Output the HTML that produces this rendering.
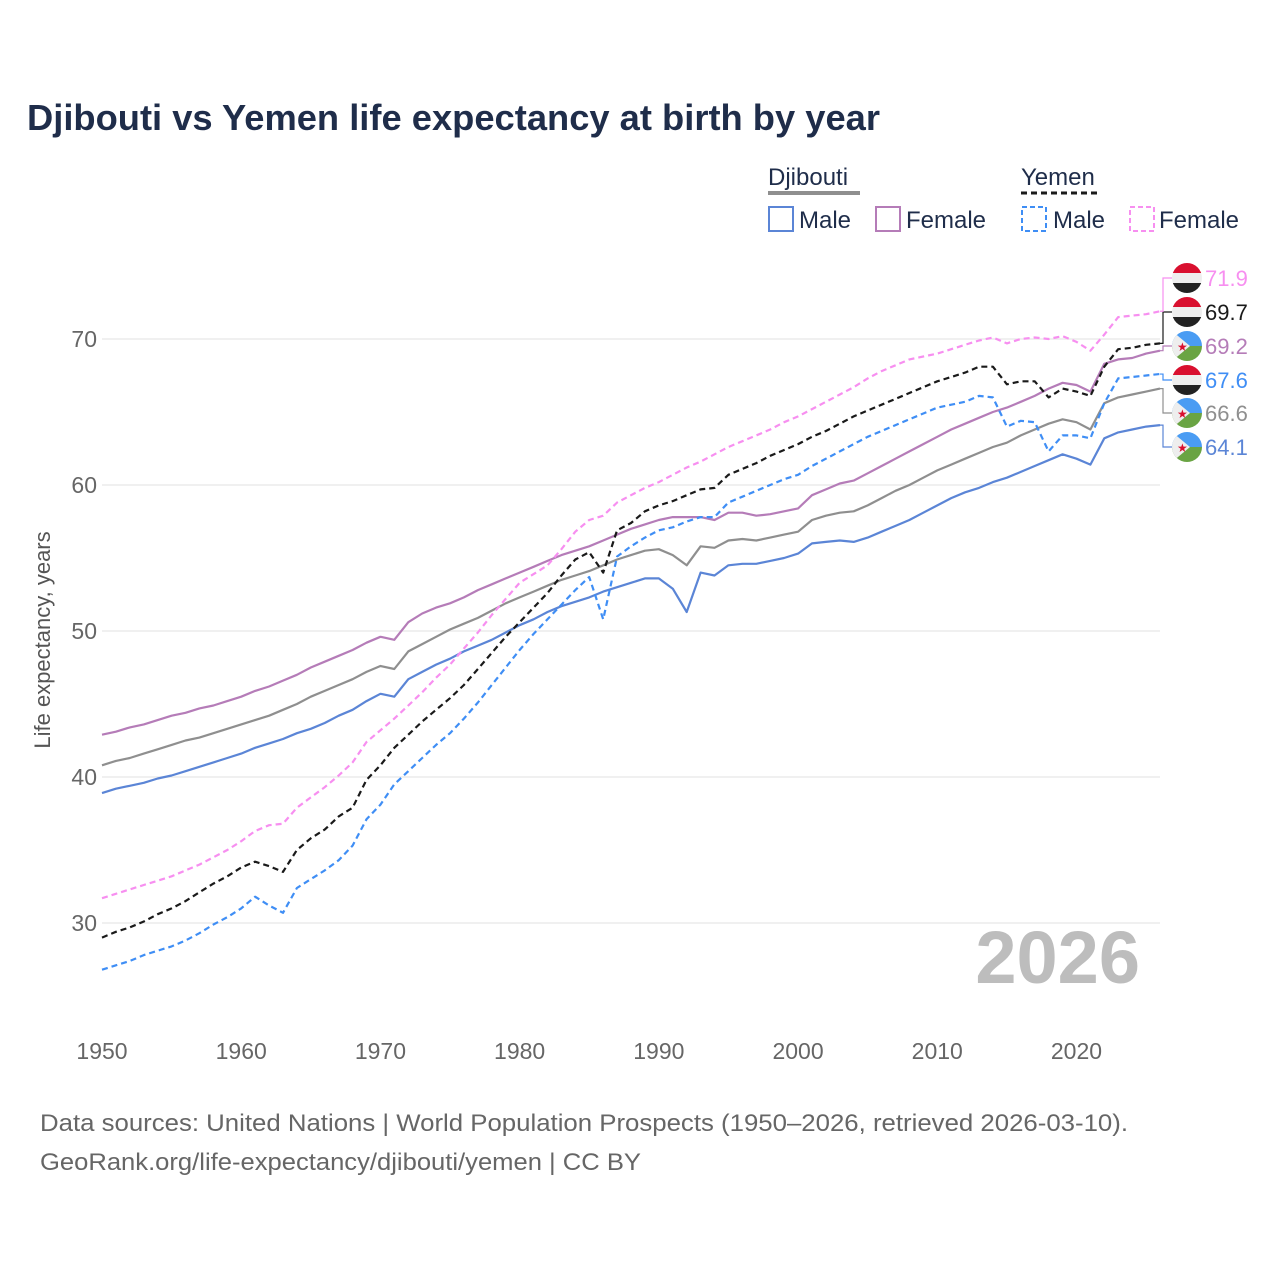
<!DOCTYPE html>
<html><head><meta charset="utf-8"><style>
body{margin:0;background:#fff;}
svg text{font-family:"Liberation Sans",sans-serif;}
</style></head><body>
<svg id="chart" width="1280" height="1280" viewBox="0 0 1280 1280" xmlns="http://www.w3.org/2000/svg">
<defs>
<clipPath id="fc"><circle cx="0" cy="0" r="15"/></clipPath>
</defs>
<text x="27" y="130" font-size="36" font-weight="bold" fill="#1f2d4a" textLength="853" lengthAdjust="spacingAndGlyphs">Djibouti vs Yemen life expectancy at birth by year</text>
<g font-size="24" fill="#333">
<text x="768" y="185" fill="#1f2d4a">Djibouti</text>
<line x1="768" y1="193" x2="860" y2="193" stroke="#8f8f8f" stroke-width="4"/>
<text x="1021" y="185" fill="#1f2d4a">Yemen</text>
<line x1="1021" y1="193" x2="1098" y2="193" stroke="#1a1a1a" stroke-width="3" stroke-dasharray="6,4"/>
<g><rect x="769" y="207" width="24" height="24" fill="none" stroke="#5b85d6" stroke-width="2"/><text x="799" y="228" fill="#1f2d4a">Male</text></g>
<g><rect x="876" y="207" width="24" height="24" fill="none" stroke="#b57cb8" stroke-width="2"/><text x="906" y="228" fill="#1f2d4a">Female</text></g>
<g><rect x="1022" y="207" width="24" height="24" fill="none" stroke="#3f8ef5" stroke-width="2" stroke-dasharray="5,3"/><text x="1053" y="228" fill="#1f2d4a">Male</text></g>
<g><rect x="1130" y="207" width="24" height="24" fill="none" stroke="#f78ff0" stroke-width="2" stroke-dasharray="5,3"/><text x="1159" y="228" fill="#1f2d4a">Female</text></g>
</g>
<text transform="translate(50,640) rotate(-90)" text-anchor="middle" font-size="22" fill="#555">Life expectancy, years</text>
<text x="1140" y="983" text-anchor="end" font-size="74" font-weight="bold" fill="#bdbdbd">2026</text>
<g id="grid"></g><g id="axes"></g><g id="series"></g><g id="labels"></g>
<text x="40" y="1131" font-size="24" fill="#666" textLength="1088" lengthAdjust="spacingAndGlyphs">Data sources: United Nations | World Population Prospects (1950–2026, retrieved 2026-03-10).</text>
<text x="40" y="1170" font-size="24" fill="#666" textLength="601" lengthAdjust="spacingAndGlyphs">GeoRank.org/life-expectancy/djibouti/yemen | CC BY</text>
</svg>
<script>
const startYear = 1950;
const yTicks = [30, 40, 50, 60, 70];
const xTicks = [1950, 1960, 1970, 1980, 1990, 2000, 2010, 2020];
const djiboutiMale = [
38.9,39.2,39.4,39.6,39.9, 40.1,40.4,40.7,41.0,41.3,
41.6,42.0,42.3,42.6,43.0, 43.3,43.7,44.2,44.6,45.2,
45.7,45.5,46.7,47.2,47.7, 48.1,48.6,49.0,49.4,49.9,
50.4,50.8,51.3,51.7,52.0, 52.3,52.7,53.0,53.3,53.6,
53.6,52.9,51.3,54.0,53.8, 54.5,54.6,54.6,54.8,55.0,
55.3,56.0,56.1,56.2,56.1, 56.4,56.8,57.2,57.6,58.1,
58.6,59.1,59.5,59.8,60.2, 60.5,60.9,61.3,61.7,62.1,
61.8,61.4,63.2,63.6,63.8, 64.0,64.1];
const djiboutiFemale = [
42.9,43.1,43.4,43.6,43.9, 44.2,44.4,44.7,44.9,45.2,
45.5,45.9,46.2,46.6,47.0, 47.5,47.9,48.3,48.7,49.2,
49.6,49.4,50.6,51.2,51.6, 51.9,52.3,52.8,53.2,53.6,
54.0,54.4,54.8,55.2,55.5, 55.8,56.2,56.6,57.0,57.3,
57.6,57.8,57.8,57.8,57.6, 58.1,58.1,57.9,58.0,58.2,
58.4,59.3,59.7,60.1,60.3, 60.8,61.3,61.8,62.3,62.8,
63.3,63.8,64.2,64.6,65.0, 65.3,65.7,66.1,66.6,67.0,
66.85,66.4,68.3,68.6,68.7, 69.0,69.2];
const djiboutiTotal = [
40.8,41.1,41.3,41.6,41.9, 42.2,42.5,42.7,43.0,43.3,
43.6,43.9,44.2,44.6,45.0, 45.5,45.9,46.3,46.7,47.2,
47.6,47.4,48.6,49.1,49.6, 50.1,50.5,50.9,51.4,51.9,
52.3,52.7,53.1,53.5,53.8, 54.1,54.5,54.9,55.2,55.5,
55.6,55.2,54.5,55.8,55.7, 56.2,56.3,56.2,56.4,56.6,
56.8,57.6,57.9,58.1,58.2, 58.6,59.1,59.6,60.0,60.5,
61.0,61.4,61.8,62.2,62.6, 62.9,63.4,63.8,64.2,64.5,
64.3,63.8,65.6,66.0,66.2, 66.4,66.6];
const yemenTotal = [
29.0,29.4,29.7,30.1,30.6, 31.0,31.5,32.1,32.7,33.2,
33.8,34.2,33.9,33.5,35.0, 35.8,36.4,37.3,37.9,39.8,
40.8,42.0,42.9,43.8,44.6, 45.4,46.3,47.4,48.5,49.6,
50.6,51.6,52.6,53.8,54.9, 55.4,54.0,56.9,57.4,58.2,
58.6,58.9,59.3,59.7,59.8, 60.7,61.1,61.5,62.0,62.4,
62.8,63.3,63.7,64.2,64.7, 65.1,65.5,65.9,66.3,66.7,
67.1,67.4,67.7,68.1,68.1, 66.9,67.1,67.1,66.0,66.6,
66.4,66.1,68.1,69.3,69.4, 69.6,69.7];
const yemenMale = [
26.8,27.1,27.4,27.8,28.1, 28.4,28.8,29.3,29.9,30.4,
31.0,31.8,31.2,30.7,32.4, 33.0,33.6,34.3,35.3,37.1,
38.1,39.5,40.4,41.3,42.2, 43.0,44.0,45.1,46.3,47.5,
48.7,49.8,50.8,51.8,52.8, 53.7,50.8,55.1,55.8,56.4,
56.9,57.1,57.5,57.8,57.8, 58.8,59.2,59.6,60.0,60.4,
60.7,61.3,61.8,62.3,62.8, 63.3,63.7,64.1,64.5,64.9,
65.3,65.5,65.7,66.1,66.0, 64.0,64.4,64.3,62.3,63.4,
63.4,63.2,65.6,67.3,67.4, 67.5,67.6];
const yemenFemale = [
31.7,32.0,32.3,32.6,32.9, 33.2,33.6,34.0,34.5,35.0,
35.6,36.3,36.7,36.8,37.9, 38.6,39.3,40.1,41.0,42.4,
43.2,44.0,44.9,45.8,46.8, 47.7,48.8,49.9,51.1,52.2,
53.3,53.9,54.5,55.6,56.8, 57.6,57.9,58.8,59.3,59.8,
60.2,60.7,61.2,61.6,62.1, 62.6,63.0,63.4,63.8,64.3,
64.7,65.2,65.7,66.2,66.7, 67.3,67.8,68.2,68.6,68.8,
69.0,69.3,69.6,69.9,70.1, 69.7,70.0,70.1,70.0,70.2,
69.8,69.2,70.3,71.5,71.6, 71.7,71.9];

const NS = 'http://www.w3.org/2000/svg';
function xScale(year){ return 102 + (year - 1950) * (1058 / 76); }
function yScale(v){ return 339 + (70 - v) * 14.6; }
function mk(tag, attrs, parent){ const e = document.createElementNS(NS, tag); for (const k in attrs) e.setAttribute(k, attrs[k]); parent.appendChild(e); return e; }

const grid = document.getElementById('grid');
const axes = document.getElementById('axes');
yTicks.forEach(t => {
  const l = mk('line', {x1: 102, x2: 1160, y1: yScale(t), y2: yScale(t), stroke: '#ebebeb', 'stroke-width': 1.5}, grid);
  
  
  const tx = mk('text', {x: 97, y: yScale(t) + 8, 'text-anchor': 'end', 'font-size': 23, fill: '#666'}, axes);
  tx.textContent = t;
  
  
});
xTicks.forEach(t => {
  const tx = mk('text', {x: xScale(t), y: 1059, 'text-anchor': 'middle', 'font-size': 23, fill: '#666'}, axes);
  tx.textContent = t;
  
  
});

const seriesG = document.getElementById('series');
const labelsG = document.getElementById('labels');
const defs = [
  {name: 'djibouti-male', data: djiboutiMale, color: '#5b85d6', dash: null, w: 2.2, flag: 'dj', labelColor: '#5b85d6', ly: 447},
  {name: 'djibouti-total', data: djiboutiTotal, color: '#8f8f8f', dash: null, w: 2.2, flag: 'dj', labelColor: '#8f8f8f', ly: 413},
  {name: 'djibouti-female', data: djiboutiFemale, color: '#b57cb8', dash: null, w: 2.2, flag: 'dj', labelColor: '#b57cb8', ly: 346},
  {name: 'yemen-male', data: yemenMale, color: '#3f8ef5', dash: '6,4', w: 2.2, flag: 'ye', labelColor: '#3f8ef5', ly: 380},
  {name: 'yemen-total', data: yemenTotal, color: '#1a1a1a', dash: '6,4', w: 2.2, flag: 'ye', labelColor: '#1a1a1a', ly: 312},
  {name: 'yemen-female', data: yemenFemale, color: '#f78ff0', dash: '6,4', w: 2.2, flag: 'ye', labelColor: '#f78ff0', ly: 278}
];
function flag(type, cx, cy){
  const g = mk('g', {transform: `translate(${cx},${cy})`}, labelsG);
  
  
  const c = mk('g', {'clip-path': 'url(#fc)'}, g);
  if (type === 'ye') {
    mk('rect', {x: -15, y: -15, width: 30, height: 10, fill: '#d9102f'}, c);
    mk('rect', {x: -15, y: -5, width: 30, height: 10, fill: '#eeeeee'}, c);
    mk('rect', {x: -15, y: 5, width: 30, height: 10, fill: '#222'}, c);
  } else {
    mk('rect', {x: -15, y: -15, width: 30, height: 15, fill: '#4a9cf3'}, c);
    mk('rect', {x: -15, y: 0, width: 30, height: 15, fill: '#6aa443'}, c);
    mk('polygon', {points: '-15,-15 3,0 -15,15', fill: '#eeeeee'}, c);
    const s = mk('text', {x: -10, y: 5, 'font-size': 12, fill: '#d9102f'}, c);
    s.textContent = '★';
  }
}
defs.forEach(d => {
  const pts = d.data.map((v, i) => xScale(startYear + i).toFixed(1) + ',' + yScale(v).toFixed(1)).join(' ');
  const attrs = {points: pts, fill: 'none', stroke: d.color, 'stroke-width': d.w, 'stroke-linejoin': 'round'};
  if (d.dash) attrs['stroke-dasharray'] = d.dash;
  const pl = mk('polyline', attrs, seriesG);
  
  
  const last = d.data[d.data.length - 1];
  const ex = xScale(startYear + d.data.length - 1), ey = yScale(last);
  const con = mk('polyline', {points: `${ex},${ey} ${ex+3},${ey} ${ex+3},${d.ly} ${ex+12},${d.ly}`, fill: 'none', stroke: d.color, 'stroke-width': 1.2}, labelsG);
  
  
  flag(d.flag, 1187, d.ly);
  const t = mk('text', {x: 1205, y: d.ly + 8, 'font-size': 22, fill: d.labelColor}, labelsG);
  t.textContent = last.toFixed(1);
  
  
});
</script>
</body></html>
